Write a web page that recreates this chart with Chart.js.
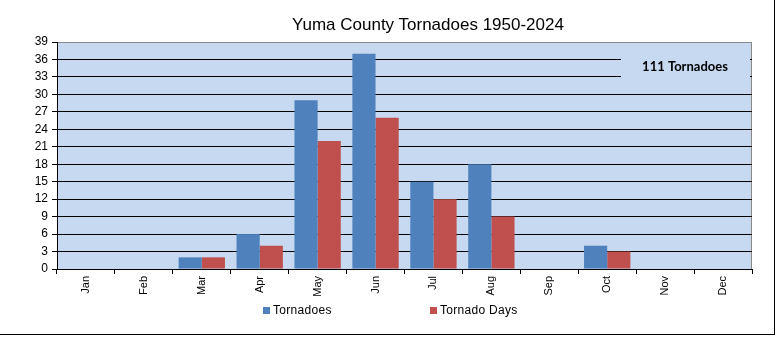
<!DOCTYPE html>
<html>
<head>
<meta charset="utf-8">
<script src="https://cdn.jsdelivr.net/npm/chart.js@4/dist/chart.umd.min.js"></script>
<style>
  body { margin: 0; background: #fff; }
  #wrap { position: relative; width: 776px; height: 338px; }
  #frame { position: absolute; left: 0; top: 0; width: 774px; height: 334px;
           border-right: 1px solid #000; border-bottom: 1px solid #000; }
  #titulo { position: absolute; top: 15px; left: 40px; width: 776px; height: 20px; line-height: 20px;
            text-align: center; font: 17px "Liberation Sans", Arial, sans-serif; color: #000; }
  #legend { position: absolute; top: 302px; left: 0; width: 776px; height: 16px;
            font: 12px "Liberation Sans", Arial, sans-serif; color: #000; letter-spacing: 0.3px; }
  .item { position: absolute; top: 0; display: flex; align-items: center; height: 16px; }
  .box { width: 7px; height: 7px; margin-right: 3px; }
</style>
</head>
<body>
<div id="wrap">
  <div id="frame"></div>
  <canvas id="grafico" width="776" height="338"></canvas>
  <div id="titulo"></div>
  <div id="legend"></div>
</div>
<script>
const meses = ['Jan', 'Feb', 'Mar', 'Apr', 'May', 'Jun', 'Jul', 'Aug', 'Sep', 'Oct', 'Nov', 'Dec'];
const tornados = [0, 0, 2, 6, 29, 37, 15, 18, 0, 4, 0, 0];
const diasTornado = [0, 0, 2, 4, 22, 26, 12, 9, 0, 3, 0, 0];
const titulo = 'Yuma County Tornadoes 1950-2024';
const totalTexto = '111 Tornadoes';

document.getElementById('titulo').textContent = titulo;

const fundo = {
    id: 'fundo',
    beforeDraw(chart) {
        const { ctx, chartArea: a } = chart;
        ctx.save();
        ctx.fillStyle = '#C6D9F1';
        ctx.fillRect(a.left, a.top, a.right - a.left, a.bottom - a.top);
        ctx.strokeStyle = '#888888';
        ctx.lineWidth = 1;
        ctx.beginPath();
        ctx.moveTo(Math.round(a.right) - 0.5, a.top);
        ctx.lineTo(Math.round(a.right) - 0.5, a.bottom);
        ctx.stroke();
        ctx.restore();
    },
    beforeDatasetsDraw(chart) {
        // caixa de texto com o total
        const { ctx, chartArea: a } = chart;
        const y = chart.scales.y;
        const topo = y.getPixelForValue(37.1);
        const base = y.getPixelForValue(32.4);
        ctx.save();
        ctx.fillStyle = '#C6D9F1';
        ctx.fillRect(a.right - 131, topo, 129, base - topo);
        ctx.fillStyle = '#000';
        ctx.font = 'bold 13px Lato, "Liberation Sans", sans-serif';
        ctx.textAlign = 'center';
        ctx.textBaseline = 'middle';
        ctx.fillText(totalTexto, a.right - 67, (topo + base) / 2);
        ctx.restore();
    }
};

const grafico = new Chart(document.getElementById('grafico'), {
    type: 'bar',
    data: {
        labels: meses,
        datasets: [{
            label: 'Tornadoes',
            data: tornados,
            backgroundColor: '#4F81BD',
            categoryPercentage: 0.8,
            barPercentage: 1.0
        }, {
            label: 'Tornado Days',
            data: diasTornado,
            backgroundColor: '#C0504D',
            categoryPercentage: 0.8,
            barPercentage: 1.0
        }]
    },
    options: {
        responsive: false,
        animation: false,
        layout: { padding: { left: 0, right: 24, top: 42, bottom: 39 } },
        plugins: {
            legend: { display: false },
            tooltip: { enabled: false },
            title: { display: false }
        },
        scales: {
            x: {
                afterFit: (s) => { s.height = 30; },
                grid: {
                    offset: true,
                    drawOnChartArea: false,
                    drawTicks: true,
                    tickLength: 5,
                    color: '#000'
                },
                border: { color: '#000' },
                ticks: {
                    color: '#000',
                    minRotation: 90,
                    maxRotation: 90,
                    padding: 2,
                    font: { family: '"Liberation Sans", Arial, sans-serif', size: 11 }
                }
            },
            y: {
                min: 0,
                max: 39,
                afterFit: (s) => { s.width = 57; },
                grid: {
                    color: (c) => c.tick && c.tick.value === 39 ? '#888888' : '#000',
                    tickColor: '#000',
                    tickLength: 5,
                    lineWidth: 1
                },
                border: { color: '#000' },
                ticks: {
                    stepSize: 3,
                    color: '#000',
                    padding: 4,
                    font: { family: '"Liberation Sans", Arial, sans-serif', size: 12 }
                }
            }
        }
    },
    plugins: [fundo]
});

// legenda em HTML a partir dos datasets
const posLegenda = [263, 430];
const legenda = document.getElementById('legend');
grafico.data.datasets.forEach((ds, i) => {
    const item = document.createElement('div');
    item.className = 'item';
    item.style.left = posLegenda[i] + 'px';
    const caixa = document.createElement('span');
    caixa.className = 'box';
    caixa.style.background = ds.backgroundColor;
    const texto = document.createElement('span');
    texto.textContent = ds.label;
    item.appendChild(caixa);
    item.appendChild(texto);
    legenda.appendChild(item);
});
</script>
</body>
</html>
